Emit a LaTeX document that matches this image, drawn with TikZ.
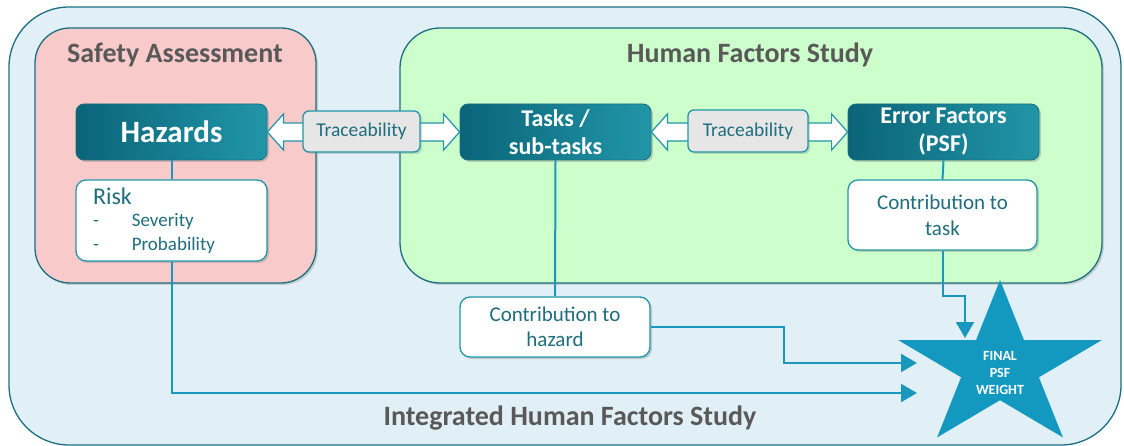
\documentclass[tikz,border=0pt]{standalone}
\usepackage{fontspec}
\setmainfont{Carlito}
\usetikzlibrary{arrows.meta,shadows,calc}
\definecolor{outerfill}{HTML}{E1F0F7}
\definecolor{tealborder}{HTML}{1B6F80}
\definecolor{pinkfill}{HTML}{F9CACA}
\definecolor{greenfill}{HTML}{CCFFCC}
\definecolor{darkteal}{HTML}{0B6478}
\definecolor{lightteal}{HTML}{2196A8}
\definecolor{conncol}{HTML}{1997BC}
\definecolor{starcol}{HTML}{1399C0}
\definecolor{titlegrey}{HTML}{595959}
\definecolor{boxtext}{HTML}{1F6E7E}
\definecolor{tracefill}{HTML}{E6E6E6}
\tikzset{
  region/.style={draw=tealborder, line width=1.3pt},
  darkbox/.style={draw=tealborder, line width=0.8pt, rounded corners=8pt, left color=darkteal, right color=lightteal,
     minimum width=191pt, minimum height=56pt, inner sep=0pt, text=white, font=\bfseries\fontsize{24}{28}\selectfont, align=center,
     drop shadow={opacity=0.35, shadow xshift=2pt, shadow yshift=-2pt}},
  whitebox/.style={draw=lightteal, line width=1.3pt, rounded corners=10pt, fill=white, inner sep=0pt, text=boxtext,
     font=\fontsize{21}{26}\selectfont, align=center,
     drop shadow={opacity=0.35, shadow xshift=2pt, shadow yshift=-2pt}},
  tracebox/.style={draw=lightteal, line width=1.3pt, rounded corners=6pt, fill=tracefill, inner sep=0pt, text=boxtext,
     font=\fontsize{19.5}{22}\selectfont,
     drop shadow={opacity=0.3, shadow xshift=2pt, shadow yshift=-2pt}},
  blockarrow/.style={draw=lightteal, line width=1.2pt, fill=white, line join=miter},
  conn/.style={draw=conncol, line width=2pt},
  connarrow/.style={conn, -{Triangle[length=16pt,width=18pt]}},
  title/.style={text=titlegrey, font=\bfseries\fontsize{28}{30}\selectfont, anchor=base},
}
\begin{document}
\begin{tikzpicture}[x=1pt,y=-1pt]
\useasboundingbox (0,0) rectangle (1124,446);
% regions
\draw[region, fill=outerfill, rounded corners=60pt] (9,7) rectangle (1121,445);
\draw[region, fill=pinkfill, rounded corners=35pt, drop shadow={opacity=0.3, shadow xshift=2pt, shadow yshift=-2pt}] (35,28) rectangle (316,283);
\draw[region, fill=greenfill, rounded corners=40pt, drop shadow={opacity=0.3, shadow xshift=2pt, shadow yshift=-2pt}] (400,28) rectangle (1102,283);
\node[title] (tsafe) at (175,63) {Safety Assessment};
\node[title] (thf) at (750,63) {Human Factors Study};
\node[title] (tint) at (570,425) {Integrated Human Factors Study};

% main nodes
\node[darkbox, font=\bfseries\fontsize{31}{33}\selectfont] (haz) at (171.5,132) {Hazards};
\node[darkbox] (tasks) at (555.5,132) {Tasks /\\sub-tasks};
\node[darkbox] (err) at (943.5,132) {Error Factors\\(PSF)};

% block double arrows
\path let \p1=(haz.east), \p2=(tasks.west) in
  [blockarrow] (\x1,\y1) -- ++(16pt,18pt) -- ++(0pt,-9pt) -- (\x2-16pt,\y1+9pt) -- ++(0pt,9pt) -- (\x2,\y2)
  -- ++(-16pt,-18pt) -- ++(0pt,9pt) -- (\x1+16pt,\y1-9pt) -- ++(0pt,-9pt) -- cycle;
\path let \p1=(tasks.east), \p2=(err.west) in
  [blockarrow] (\x1,\y1) -- ++(16pt,18pt) -- ++(0pt,-9pt) -- (\x2-16pt,\y1+9pt) -- ++(0pt,9pt) -- (\x2,\y2)
  -- ++(-16pt,-18pt) -- ++(0pt,9pt) -- (\x1+16pt,\y1-9pt) -- ++(0pt,-9pt) -- cycle;
\node[tracebox, minimum width=117pt, minimum height=41pt] (tr1) at (361.5,131.5) {Traceability};
\node[tracebox, minimum width=120pt, minimum height=42pt] (tr2) at (748,131) {Traceability};

% white boxes
\node[whitebox, minimum width=191pt, minimum height=81pt, align=left, text width=157pt,
      font=\fontsize{19}{24}\selectfont] (risk) at (171.5,220.5)
  {{\fontsize{24}{25}\selectfont Risk}\\[-2pt]-\hspace{33pt}Severity\\-\hspace{33pt}Probability};
\node[whitebox, minimum width=189pt, minimum height=70pt] (ct) at (942.5,215) {Contribution to\\task};
\node[whitebox, minimum width=190pt, minimum height=60pt, font=\fontsize{21}{25}\selectfont] (ch) at (555,327) {Contribution to\\hazard};

% star
\fill[starcol] (1000,280) -- (976.0,340.1) -- (898.2,340.1) -- (961.1,377.3) -- (937.1,437.4)
  -- (1000,400.2) -- (1062.9,437.4) -- (1038.9,377.3) -- (1101.8,340.1) -- (1024.0,340.1) -- cycle;
\node[text=white, font=\bfseries\fontsize{14}{17}\selectfont, align=center] (fw) at (1000,373) {FINAL\\PSF\\WEIGHT};

% connectors
\coordinate (in1) at (917,393);
\coordinate (in2) at (917,363);
\coordinate (in3) at (965,338);
\draw[conn] (haz.south) -- (risk.north);
\draw[conn] (tasks.south) -- (ch.north);
\draw[conn] (err.south) -- (ct.north);
\draw[connarrow] (risk.south) |- (in1);
\draw[connarrow] (ch.east) -| (784,363) -- (in2);
\draw[connarrow] (ct.south) -- ++(0,45) -| (in3);
\end{tikzpicture}
\end{document}
